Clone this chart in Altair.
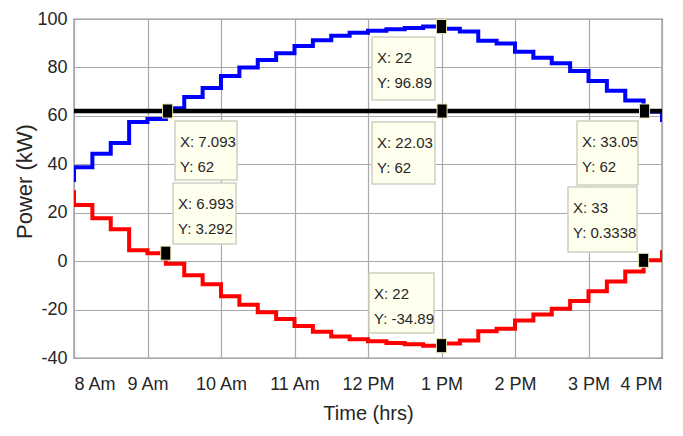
import altair as alt
import pandas as pd

# 15-minute slots (2 = 8 AM, 34 = 4 PM)
slot = list(range(1, 35))
pv_power = [33.5, 38.8, 44.3, 48.8, 57.5, 58.708, 63.1, 67.8, 71.5, 76.5,
            80.0, 83.1, 85.9, 88.8, 91.2, 93.1, 94.3, 95.1, 95.8, 96.3,
            96.89, 96.0, 94.8, 91.0, 89.9, 86.5, 84.0, 81.7, 78.5, 74.4,
            70.4, 66.3, 61.67, 57.5]
grid_power = [28.5, 23.2, 17.7, 13.2, 4.5, 3.292, -1.1, -5.8, -9.5, -14.5,
              -18.0, -21.1, -23.9, -26.8, -29.2, -31.1, -32.3, -33.1, -33.8, -34.3,
              -34.89, -34.0, -32.8, -29.0, -27.9, -24.5, -22.0, -19.7, -16.5, -12.4,
              -8.4, -4.3, 0.3338, 4.5]
load_level = 62

x_ticks = [2, 6, 10, 14, 18, 22, 26, 30, 34]
x_tick_labels = ["8 Am", "9 Am", "10 Am", "11 Am", "12 PM", "1 PM", "2 PM", "3 PM", "4 PM"]
y_ticks = [-40, -20, 0, 20, 40, 60, 80, 100]

# data tips
tip_x = [7.093, 22, 22.03, 33.05, 33, 6.993, 22]
tip_y = [62, 96.89, 62, 62, 0.3338, 3.292, -34.89]
tip_line1 = ["X: 7.093", "X: 22", "X: 22.03", "X: 33.05", "X: 33", "X: 6.993", "X: 22"]
tip_line2 = ["Y: 62", "Y: 96.89", "Y: 62", "Y: 62", "Y: 0.3338", "Y: 3.292", "Y: -34.89"]
# tip box corners (data units)
box_left = [7.497, 18.218, 18.218, 29.374, 28.884, 7.388, 18.054]
box_right = [10.871, 21.646, 21.646, 32.694, 32.639, 10.816, 21.592]
box_top = [57.88, 92.57, 57.46, 57.88, 30.62, 32.27, -4.9]
box_bottom = [33.51, 66.55, 31.86, 31.44, 3.77, 7.08, -29.68]

FONT = "Liberation Sans, Arial, sans-serif"
TXT = "#262626"

df = pd.DataFrame({"slot": slot, "pv": pv_power, "grid": grid_power})
tips = pd.DataFrame({"x": tip_x, "y": tip_y, "l1": tip_line1, "l2": tip_line2,
                     "bl": box_left, "br": box_right, "bt": box_top, "bb": box_bottom})

xscale = alt.Scale(domain=[2, 34], nice=False, zero=False)
yscale = alt.Scale(domain=[-40, 100], nice=False, zero=False)

label_expr = "[" + ",".join("'%s'" % s for s in x_tick_labels) + "][round((datum.value-2)/4)]"

xaxis = alt.Axis(values=x_ticks, labelExpr=label_expr, grid=True, ticks=False, tickSize=0,
                 domain=False, labelFont=FONT, labelFontSize=18, labelColor=TXT,
                 labelBaseline="alphabetic", labelPadding=31,
                 title="Time (hrs)", titleFont=FONT, titleFontSize=20,
                 titleFontWeight="normal", titleColor=TXT, titleBaseline="alphabetic",
                 titleY=61)
yaxis = alt.Axis(values=y_ticks, labelExpr="datum.value + ''", grid=True, ticks=False,
                 tickSize=0, domain=False,
                 labelFont=FONT, labelFontSize=18, labelColor=TXT, labelPadding=7,
                 title="Power (kW)", titleFont=FONT, titleFontSize=22,
                 titleFontWeight="normal", titleColor=TXT, titleX=-38, titleY=162)

base = alt.Chart(df)
pv_line = base.mark_line(interpolate="step-after", color="#0000ff", strokeWidth=4, clip=True).encode(
    x=alt.X("slot:Q", scale=xscale, axis=xaxis),
    y=alt.Y("pv:Q", scale=yscale, axis=yaxis),
)
grid_line = base.mark_line(interpolate="step-after", color="#ff0000", strokeWidth=4, clip=True).encode(
    x=alt.X("slot:Q", scale=xscale),
    y=alt.Y("grid:Q", scale=yscale),
)
level = alt.Chart(pd.DataFrame({"lvl": [load_level]})).mark_rule(color="black", strokeWidth=4.5).encode(
    y=alt.Y("lvl:Q", scale=yscale)
)
markers = alt.Chart(tips).mark_point(
    shape="M-0.72,-1L0.72,-1L0.72,1L-0.72,1Z", size=196, filled=True,
    fill="black", stroke="#e8e2b0", strokeWidth=1, opacity=1
).encode(x=alt.X("x:Q", scale=xscale), y=alt.Y("y:Q", scale=yscale))

boxes = alt.Chart(tips).mark_rect(fill="#ffffee", stroke="#cfcfc0", strokeWidth=1.5).encode(
    x=alt.X("bl:Q", scale=xscale), x2="br:Q",
    y=alt.Y("bt:Q", scale=yscale), y2="bb:Q",
)
text1 = alt.Chart(tips).mark_text(align="left", baseline="middle", dx=5, dy=21,
                                   font=FONT, fontSize=15, color=TXT).encode(
    x=alt.X("bl:Q", scale=xscale), y=alt.Y("bt:Q", scale=yscale), text="l1:N")
text2 = alt.Chart(tips).mark_text(align="left", baseline="middle", dx=5, dy=46,
                                   font=FONT, fontSize=15, color=TXT).encode(
    x=alt.X("bl:Q", scale=xscale), y=alt.Y("bt:Q", scale=yscale), text="l2:N")

chart = alt.layer(pv_line, grid_line, level, markers, boxes, text1, text2).properties(
    width=588, height=339,
    autosize=alt.AutoSizeParams(type="none"),
    padding={"left": 74, "top": 19, "right": 21, "bottom": 78},
    background="white",
).configure_view(stroke="#262626", strokeWidth=1.2).configure_axis(
    gridColor="#a8a8a8", gridWidth=1.2, gridOpacity=1
)

chart.save("out.html", embed_options={"renderer": "svg", "actions": False})
